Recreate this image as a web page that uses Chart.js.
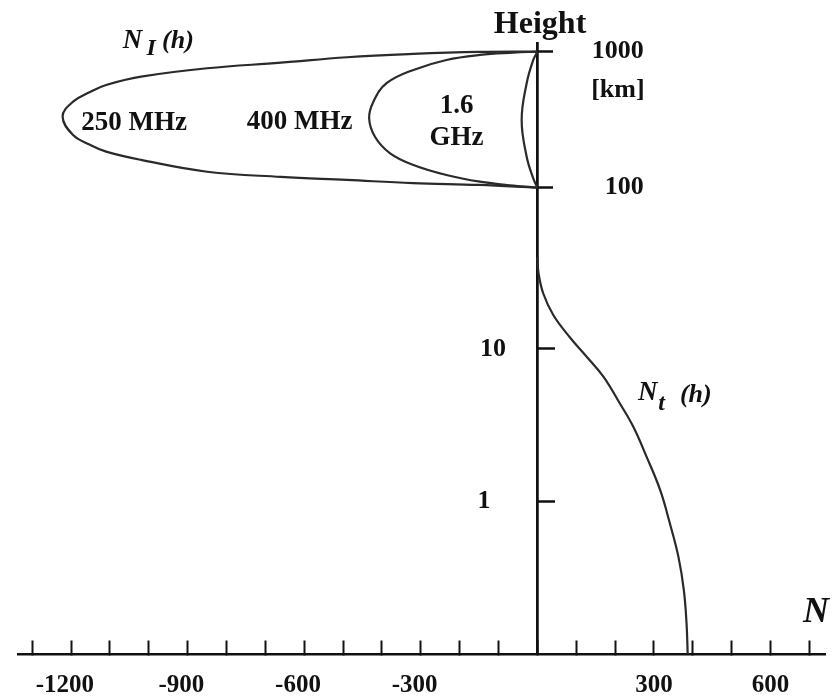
<!DOCTYPE html>
<html>
<head>
<meta charset="utf-8">
<script src="https://cdn.jsdelivr.net/npm/chart.js@4"></script>
<style>
  html, body { margin: 0; padding: 0; background: #fff; }
  #wrap { width: 836px; height: 697px; position: relative; }
</style>
</head>
<body>
<div id="wrap"><canvas id="chart"></canvas></div>
<script>
// N_I(h) for three frequencies: refractivity (N units) vs height (km)
const n250X = [0, -150, -320, -490, -660, -850, -1020, -1110, -1150, -1195, -1222, -1195, -1150, -1110, -1020, -850, -660, -490, -320, -150, 0];
const n250H = [1000, 995, 962, 910, 830, 755, 655, 569, 508, 429, 333, 244, 206, 184, 160, 131, 120, 114, 108, 104.7, 100];

const n400X = [0, -62, -148, -234, -319, -388, -422, -433, -418, -379, -319, -234, -148, -62, 0];
const n400H = [1000, 983, 946, 869, 734, 586, 429, 324, 237, 179, 147, 124, 110.7, 103.5, 100];

const n1600X = [0, -10.5, -27.5, -40.4, -27.5, -10.5, 0];
const n1600H = [1000, 869, 586, 315, 169, 117, 100];

// N_t(h): tropospheric refractivity
const ntX = [0, 3, 15, 41, 84, 127, 170, 212, 247, 281, 316, 341, 363, 377, 384, 387];
const ntH = [40, 31.4, 23.2, 16.7, 11.9, 8.9, 6.58, 4.41, 3.09, 1.97, 1.19, 0.72, 0.435, 0.263, 0.159, 0.1];

// axis ticks
const xTicks = [-1300, -1200, -1100, -1000, -900, -800, -700, -600, -500, -400, -300, -200, -100, 0, 100, 200, 300, 400, 500, 600, 700];
const xTickLabels = [-1200, -900, -600, -300, 300, 600];
const hTicksTop = [100, 1000];
const hTicksLow = [1, 10];

const SERIF = '"Liberation Serif", "Times New Roman", serif';
const INK = '#111';

// the upper decade (100-1000 km) is drawn shorter than the lower ones
const TOP_RANGE = [0.03726, 1158];
const LOW_RANGE = [0.1, 1015];

function toPoints(xs, hs) {
    return xs.map((x, i) => ({ x: x, y: hs[i] }));
}

function curve(xs, hs, axisId) {
    return {
        data: toPoints(xs, hs),
        yAxisID: axisId,
        showLine: true,
        pointRadius: 0,
        borderColor: '#2a2a2a',
        borderWidth: 2.2,
        tension: 0.4,
        fill: false
    };
}

// y axis that only prints labels (right-aligned at xAt)
function labelAxis(xAt, range, values, labels) {
    return {
        type: 'logarithmic',
        axis: 'y',
        position: { x: xAt },
        min: range[0],
        max: range[1],
        bounds: 'data',
        border: { display: false },
        grid: { display: false },
        afterBuildTicks: s => { s.ticks = values.map(v => ({ value: v })); },
        ticks: {
            padding: 0,
            color: INK,
            font: { family: SERIF, size: 26, weight: 'bold' },
            callback: v => labels[values.indexOf(v)]
        }
    };
}

// texts placed at data coordinates
const notes = [
    { text: 'N', x: -1067, h: 1059, axis: 'yTop', font: 'italic bold 27px ' + SERIF },
    { text: 'I', x: -1006, h: 946, axis: 'yTop', font: 'italic bold 24px ' + SERIF },
    { text: '(h)', x: -966, h: 1059, axis: 'yTop', font: 'italic bold 26px ' + SERIF },
    { text: '250 MHz', x: -1174, h: 266, axis: 'yTop', font: 'bold 27px ' + SERIF },
    { text: '400 MHz', x: -748, h: 270, axis: 'yTop', font: 'bold 27px ' + SERIF },
    { text: '1.6', x: -208, h: 356, axis: 'yTop', font: 'bold 27px ' + SERIF, align: 'center' },
    { text: 'GHz', x: -208, h: 206, axis: 'yTop', font: 'bold 27px ' + SERIF, align: 'center' },
    { text: 'Height', x: 7, h: 1373, axis: 'yTop', font: 'bold 32px ' + SERIF, align: 'center' },
    { text: '[km]', x: 276, h: 464, axis: 'yTop', font: 'bold 26px ' + SERIF, align: 'right' },
    { text: 'N', x: 259, h: 4.63, axis: 'yLow', font: 'italic bold 27px ' + SERIF },
    { text: 't', x: 311, h: 3.98, axis: 'yLow', font: 'italic bold 24px ' + SERIF },
    { text: '(h)', x: 367, h: 4.51, axis: 'yLow', font: 'italic bold 26px ' + SERIF },
    { text: 'N', x: 684, h: 0.163, axis: 'yLow', font: 'italic bold 36px ' + SERIF }
];

const notesPlugin = {
    id: 'notes',
    afterDraw(chart) {
        const ctx = chart.ctx;
        ctx.save();
        ctx.fillStyle = INK;
        ctx.textBaseline = 'alphabetic';
        notes.forEach(n => {
            ctx.font = n.font;
            ctx.textAlign = n.align || 'left';
            ctx.fillText(n.text, chart.scales.x.getPixelForValue(n.x), chart.scales[n.axis].getPixelForValue(n.h));
        });
        ctx.restore();
    }
};

new Chart(document.getElementById('chart'), {
    type: 'scatter',
    data: {
        datasets: [
            curve(n250X, n250H, 'yTop'),
            curve(n400X, n400H, 'yTop'),
            curve(n1600X, n1600H, 'yTop'),
            curve(ntX, ntH, 'yLow')
        ]
    },
    options: {
        responsive: true,
        maintainAspectRatio: false,
        animation: false,
        events: [],
        layout: { padding: { left: 18, right: 11, top: 43, bottom: 43 } },
        plugins: {
            legend: { display: false },
            tooltip: { enabled: false },
            title: { display: false }
        },
        scales: {
            x: {
                type: 'linear',
                position: { yLow: 0.1 },
                min: -1336.8,
                max: 740.4,
                bounds: 'data',
                afterBuildTicks: s => { s.ticks = xTicks.map(v => ({ value: v })); },
                border: { display: true, color: INK, width: 2.5 },
                grid: { drawOnChartArea: false, tickLength: -15, tickWidth: 2, tickColor: INK },
                ticks: {
                    autoSkip: false,
                    maxRotation: 0,
                    padding: 3,
                    color: INK,
                    // tall line box pushes the labels below the axis
                    font: { family: SERIF, size: 25, weight: 'bold', lineHeight: 3.5 },
                    // digits centred on the tick, minus sign hanging to the left
                    callback: v => xTickLabels.includes(v) ? (v < 0 ? v + '\u2002' : String(v)) : ''
                }
            },
            yTop: {
                type: 'logarithmic',
                axis: 'y',
                position: { x: 0 },
                min: TOP_RANGE[0],
                max: TOP_RANGE[1],
                bounds: 'data',
                afterBuildTicks: s => { s.ticks = hTicksTop.map(v => ({ value: v })); },
                border: { display: true, color: INK, width: 2.5 },
                grid: { drawOnChartArea: false, tickLength: -17, tickWidth: 2.5, tickColor: INK },
                ticks: { display: false }
            },
            yLow: {
                type: 'logarithmic',
                axis: 'y',
                position: { x: 0 },
                min: LOW_RANGE[0],
                max: LOW_RANGE[1],
                bounds: 'data',
                afterBuildTicks: s => { s.ticks = hTicksLow.map(v => ({ value: v })); },
                border: { display: true, color: INK, width: 2.5 },
                grid: { drawOnChartArea: false, tickLength: -19, tickWidth: 2.5, tickColor: INK },
                ticks: { display: false }
            },
            yLabKm: labelAxis(274, TOP_RANGE, [100, 1000], ['100', '1000']),
            yLabTen: labelAxis(-80.8, LOW_RANGE, [10], ['10']),
            yLabOne: labelAxis(-120.7, LOW_RANGE, [1], ['1'])
        }
    },
    plugins: [notesPlugin]
});
</script>
</body>
</html>
